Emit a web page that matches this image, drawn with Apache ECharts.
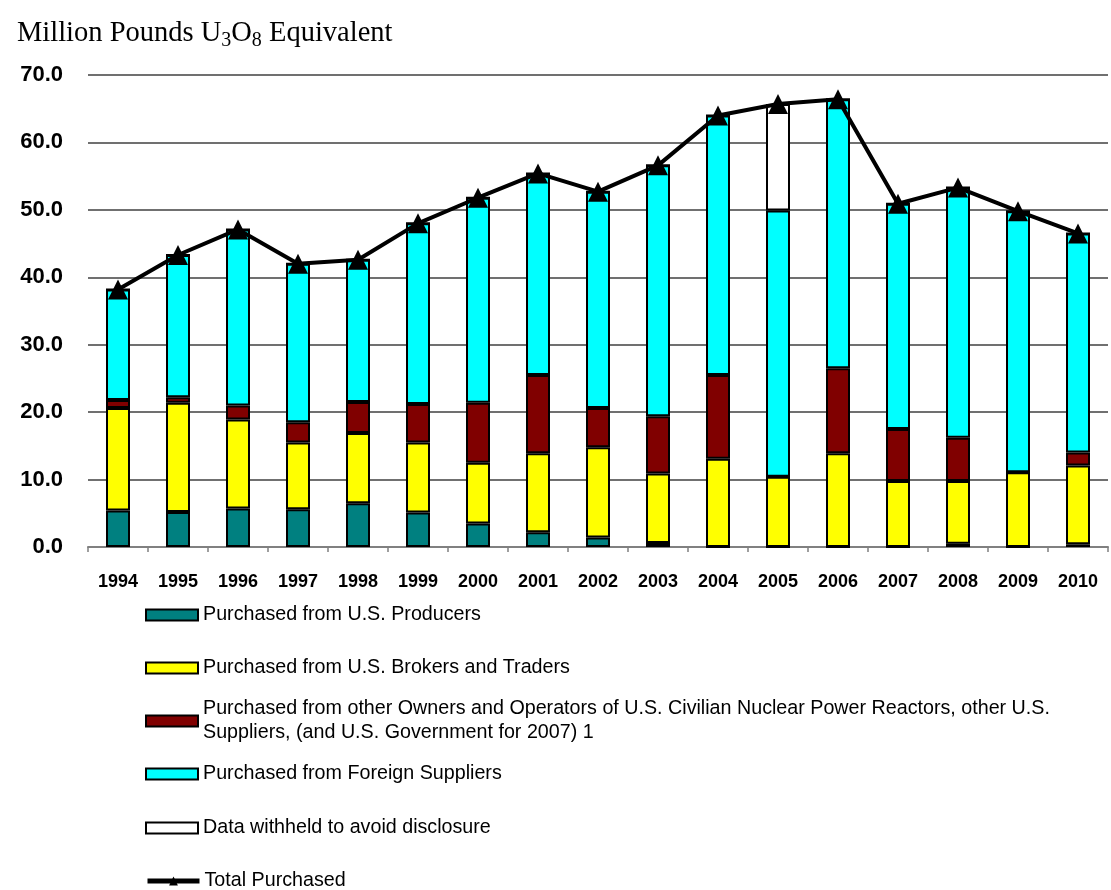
<!DOCTYPE html>
<html>
<head>
<meta charset="utf-8">
<script src="https://cdn.jsdelivr.net/npm/echarts@6/dist/echarts.min.js"></script>
<style>html,body{margin:0;padding:0;background:#fff;}#c{width:1111px;height:890px;}</style>
</head>
<body>
<div id="c"></div>
<script>
var years = ['1994','1995','1996','1997','1998','1999','2000','2001','2002','2003','2004','2005','2006','2007','2008','2009','2010'];
var usProducers = [5.4, 5.2, 5.7, 5.6, 6.5, 5.1, 3.5, 2.2, 1.4, 0.6, 0, 0, 0, 0, 0.5, 0, 0.4];
var usBrokers = [15.2, 16.2, 13.2, 9.9, 10.4, 10.4, 9.0, 11.7, 13.4, 10.3, 13.1, 10.4, 13.9, 9.8, 9.3, 11.1, 11.7];
var otherOwners = [1.2, 0.8, 2.1, 3.0, 4.6, 5.7, 8.9, 11.6, 5.8, 8.5, 12.4, 0, 12.6, 7.7, 6.4, 0, 1.9];
var foreign = [16.4, 21.1, 26.1, 23.5, 21.1, 26.8, 30.4, 29.9, 32.1, 37.2, 38.5, 39.5, 39.9, 33.4, 37.1, 38.7, 32.5];
var withheld = [0, 0, 0, 0, 0, 0, 0, 0, 0, 0, 0, 15.8, 0, 0, 0, 0, 0];
var totalPurchased = [38.2, 43.3, 47.1, 42.0, 42.6, 48.0, 51.8, 55.4, 52.7, 56.6, 64.0, 65.7, 66.4, 50.9, 53.3, 49.8, 46.5];
var yTicks = [0, 10, 20, 30, 40, 50, 60, 70];

var names = [
  'Purchased from U.S. Producers',
  'Purchased from U.S. Brokers and Traders',
  'Purchased from other Owners and Operators of U.S. Civilian Nuclear Power Reactors, other U.S.\nSuppliers, (and U.S. Government for 2007) 1',
  'Purchased from Foreign Suppliers',
  'Data withheld to avoid disclosure',
  'Total Purchased'
];
var colors = ['#008080', '#FFFF00', '#800000', '#00FFFF', '#FFFFFF'];
var barData = [usProducers, usBrokers, otherOwners, foreign, withheld];

var chart = echarts.init(document.getElementById('c'));
var legendTops = [603, 656, 685, 762, 816, 869];
var FONT = 'Liberation Sans, Arial, sans-serif';
var legends = names.map(function (n, i) {
  var lg = {
    data: [{ name: n, icon: i === 5 ? undefined : 'rect' }],
    left: 145,
    top: legendTops[i],
    padding: 0,
    itemWidth: 52,
    itemHeight: 11,
    selectedMode: false,
    textStyle: { fontFamily: FONT, fontSize: 19.7, color: '#000', lineHeight: 24 }
  };
  if (i === 2) {
    lg.textStyle = { fontFamily: FONT, fontSize: 19.7, color: '#000', lineHeight: 24, padding: [24, 0, 0, 0] };
  }
  if (i === 5) {
    lg.lineStyle = { width: 5, color: '#000' };
  }
  return lg;
});

var series = barData.map(function (d, i) {
  return {
    name: names[i],
    type: 'bar',
    stack: 'total',
    data: d,
    barWidth: '40%',
    itemStyle: { color: colors[i], borderColor: '#000', borderWidth: 2 },
    emphasis: { disabled: true }
  };
});
series.push({
  name: names[5],
  type: 'line',
  data: totalPurchased,
  symbol: 'triangle',
  symbolSize: 20,
  z: 10,
  lineStyle: { color: '#000', width: 4 },
  itemStyle: { color: '#000' },
  emphasis: { disabled: true }
});

chart.setOption({
  animation: false,
  backgroundColor: '#fff',
  title: {
    text: '{b|Million Pounds U}{s|3}{b|O}{s|8}{b| Equivalent}',
    left: 17,
    top: 16,
    padding: 0,
    textStyle: {
      fontWeight: 'normal',
      rich: {
        b: { fontFamily: 'Liberation Serif, Times New Roman, serif', fontSize: 28.5, fontWeight: 'normal', color: '#000' },
        s: { fontFamily: 'Liberation Serif, Times New Roman, serif', fontSize: 20, fontWeight: 'normal', color: '#000', padding: [15, 0, 0, 0] }
      }
    }
  },
  legend: legends,
  grid: { left: 88, right: 3, top: 75, bottom: 343, containLabel: false },
  xAxis: {
    type: 'category',
    data: years,
    axisLine: { lineStyle: { color: '#808080', width: 2 } },
    axisTick: { show: true, length: 5, lineStyle: { color: '#808080', width: 1.5 } },
    axisLabel: { fontFamily: FONT, fontSize: 18, fontWeight: 'bold', color: '#000', margin: 26 }
  },
  yAxis: {
    type: 'value',
    min: yTicks[0],
    max: yTicks[yTicks.length - 1],
    interval: 10,
    axisLine: { show: false },
    axisTick: { show: false },
    axisLabel: {
      fontFamily: FONT, fontSize: 22, fontWeight: 'bold', color: '#000', margin: 25,
      formatter: function (v) { return v.toFixed(1); }
    },
    splitLine: { lineStyle: { color: '#404040', width: 1.5 } }
  },
  series: series
});
</script>
</body>
</html>
